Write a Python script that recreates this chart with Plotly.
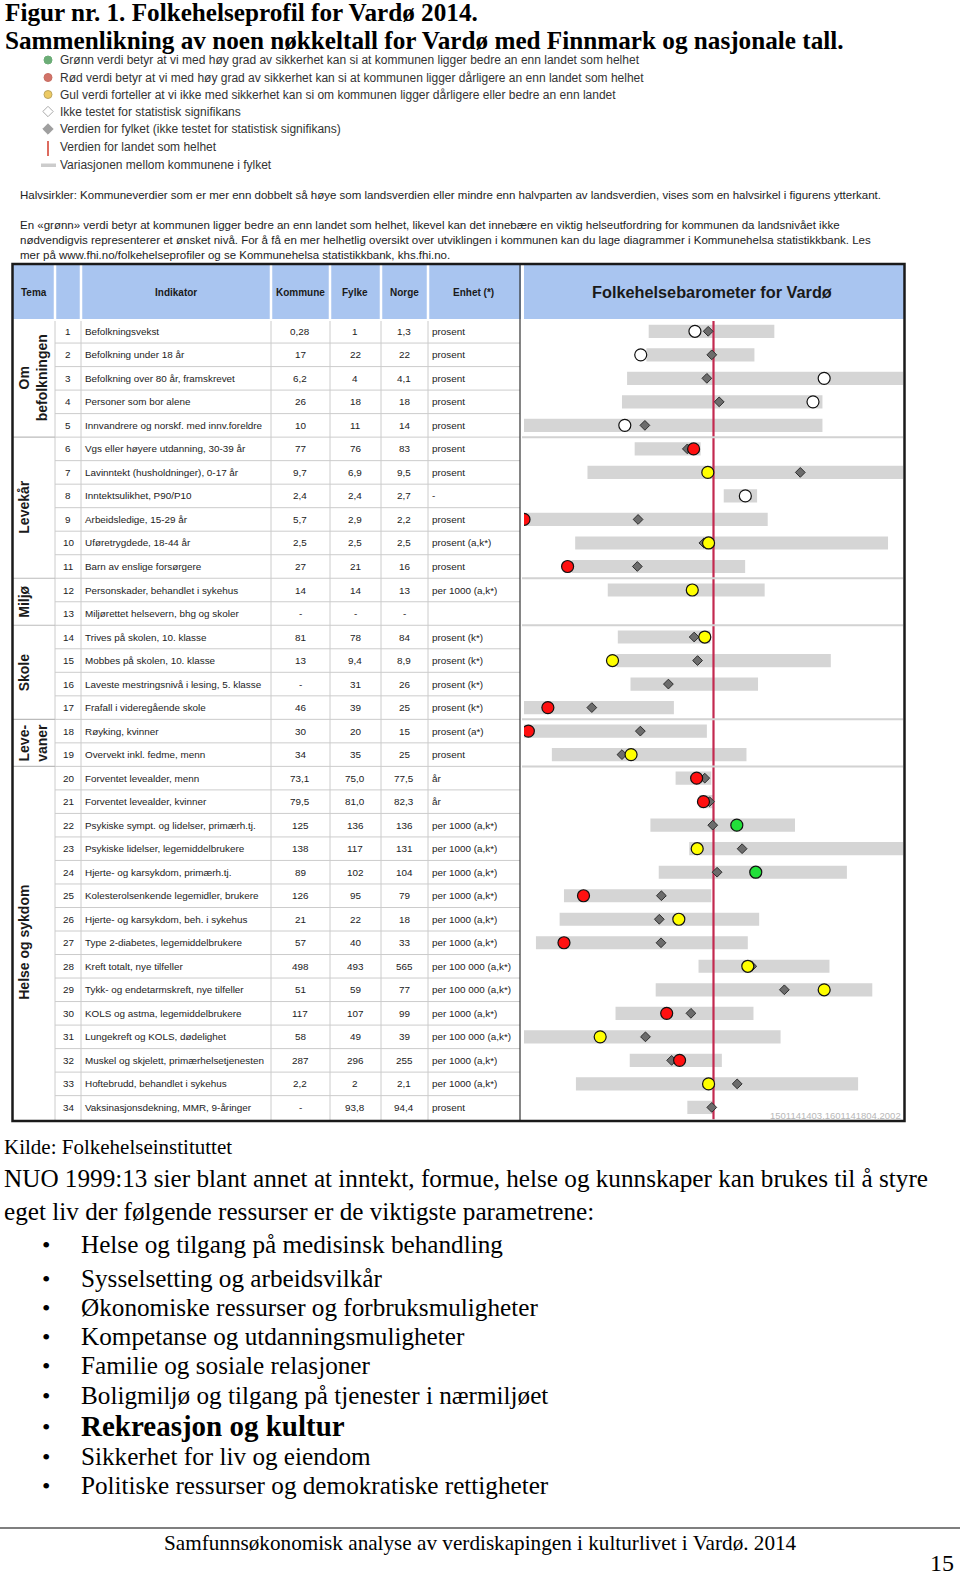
import plotly.graph_objects as go

W, H = 960, 1581


def px(x):
    return x / W


def py(y):
    return 1 - y / H


# ---------------- data ----------------
nr = list(range(1, 35))
indikator = [
    "Befolkningsvekst", "Befolkning under 18 år", "Befolkning over 80 år, framskrevet",
    "Personer som bor alene", "Innvandrere og norskf. med innv.foreldre",
    "Vgs eller høyere utdanning, 30-39 år", "Lavinntekt (husholdninger), 0-17 år",
    "Inntektsulikhet, P90/P10", "Arbeidsledige, 15-29 år", "Uføretrygdede, 18-44 år",
    "Barn av enslige forsørgere", "Personskader, behandlet i sykehus",
    "Miljørettet helsevern, bhg og skoler", "Trives på skolen, 10. klasse",
    "Mobbes på skolen, 10. klasse", "Laveste mestringsnivå i lesing, 5. klasse",
    "Frafall i videregående skole", "Røyking, kvinner", "Overvekt inkl. fedme, menn",
    "Forventet levealder, menn", "Forventet levealder, kvinner",
    "Psykiske sympt. og lidelser, primærh.tj.", "Psykiske lidelser, legemiddelbrukere",
    "Hjerte- og karsykdom, primærh.tj.", "Kolesterolsenkende legemidler, brukere",
    "Hjerte- og karsykdom, beh. i sykehus", "Type 2-diabetes, legemiddelbrukere",
    "Kreft totalt, nye tilfeller", "Tykk- og endetarmskreft, nye tilfeller",
    "KOLS og astma, legemiddelbrukere", "Lungekreft og KOLS, dødelighet",
    "Muskel og skjelett, primærhelsetjenesten", "Hoftebrudd, behandlet i sykehus",
    "Vaksinasjonsdekning, MMR, 9-åringer",
]
kommune = ["0,28", "17", "6,2", "26", "10", "77", "9,7", "2,4", "5,7", "2,5", "27", "14", "-",
           "81", "13", "-", "46", "30", "34", "73,1", "79,5", "125", "138", "89", "126", "21",
           "57", "498", "51", "117", "58", "287", "2,2", "-"]
fylke = ["1", "22", "4", "18", "11", "76", "6,9", "2,4", "2,9", "2,5", "21", "14", "-",
         "78", "9,4", "31", "39", "20", "35", "75,0", "81,0", "136", "117", "102", "95", "22",
         "40", "493", "59", "107", "49", "296", "2", "93,8"]
norge = ["1,3", "22", "4,1", "18", "14", "83", "9,5", "2,7", "2,2", "2,5", "16", "13", "-",
         "84", "8,9", "26", "25", "15", "25", "77,5", "82,3", "136", "131", "104", "79", "18",
         "33", "565", "77", "99", "39", "255", "2,1", "94,4"]
enhet = ["prosent", "prosent", "prosent", "prosent", "prosent", "prosent", "prosent", "-",
         "prosent", "prosent (a,k*)", "prosent", "per 1000 (a,k*)", "",
         "prosent (k*)", "prosent (k*)", "prosent (k*)", "prosent (k*)", "prosent (a*)",
         "prosent", "år", "år", "per 1000 (a,k*)", "per 1000 (a,k*)", "per 1000 (a,k*)",
         "per 1000 (a,k*)", "per 1000 (a,k*)", "per 1000 (a,k*)", "per 100 000 (a,k*)",
         "per 100 000 (a,k*)", "per 1000 (a,k*)", "per 100 000 (a,k*)", "per 1000 (a,k*)",
         "per 1000 (a,k*)", "prosent"]

# Barometer: standardised positions, national value = 0, figure edges = -1 / +1
var_lav = [-0.342, -0.354, -0.456, -0.483, -1.0, -0.416, -0.665, 0.054, -1.0, -0.730,
           -0.749, -0.558, None, -0.505, -0.512, -0.438, -1.0, -1.0, -0.853, -0.200,
           -0.075, -0.333, -0.128, -0.289, -0.789, -0.812, -0.937, -0.079, -0.305,
           -0.517, -1.0, -0.442, -0.726, -0.138]
var_hoy = [0.321, 0.216, 1.0, 0.575, 0.575, -0.068, 1.0, 0.230, 0.286, 0.921,
           0.167, 0.270, None, -0.017, 0.619, 0.235, -0.209, -0.035, 0.174, -0.012,
           0.002, 0.430, 1.0, 0.704, -0.012, 0.241, 0.181, 0.612, 0.838,
           0.211, 0.354, 0.044, 0.763, 0.002]
kommune_pos = [-0.098, -0.384, 0.584, 0.525, -0.468, -0.105, -0.030, 0.168, -1.0, -0.026,
               -0.770, -0.112, None, -0.046, -0.533, None, -0.874, -0.977, -0.435, -0.089,
               -0.053, 0.123, -0.086, 0.223, -0.686, -0.183, -0.789, 0.181, 0.584,
               -0.247, -0.598, -0.179, -0.026, None]
kommune_status = ["hvit", "hvit", "hvit", "hvit", "hvit", "rød", "gul", "hvit", "rød", "gul",
                  "rød", "gul", None, "gul", "gul", None, "rød", "rød", "gul", "rød",
                  "rød", "grønn", "gul", "grønn", "rød", "gul", "rød", "gul", "gul",
                  "rød", "gul", "rød", "gul", None]
fylke_pos = [-0.028, -0.009, -0.035, 0.030, -0.362, -0.138, 0.458, 0.168, -0.398, -0.051,
             -0.402, -0.112, None, -0.102, -0.084, -0.238, -0.642, -0.386, -0.483, -0.046,
             -0.021, -0.004, 0.151, 0.019, -0.275, -0.286, -0.277, 0.202, 0.374,
             -0.119, -0.359, -0.221, 0.125, -0.009]
norge_pos = 0.0

tema_navn = ["Om<br>befolkningen", "Levekår", "Miljø", "Skole", "Leve-<br>vaner", "Helse og sykdom"]
tema_fra = [1, 6, 12, 14, 18, 20]
tema_til = [5, 11, 13, 17, 19, 34]

kolonner = ["Tema", "", "Indikator", "Kommune", "Fylke", "Norge", "Enhet (*)"]

legend_tekster = [
    "Grønn verdi betyr at vi med høy grad av sikkerhet kan si at kommunen ligger bedre an enn landet som helhet",
    "Rød verdi betyr at vi med høy grad av sikkerhet kan si at kommunen ligger dårligere an enn landet som helhet",
    "Gul verdi forteller at vi ikke med sikkerhet kan si om kommunen ligger dårligere eller bedre an enn landet",
    "Ikke testet for statistisk signifikans",
    "Verdien for fylket (ikke testet for statistisk signifikans)",
    "Verdien for landet som helhet",
    "Variasjonen mellom kommunene i fylket",
]
punkter = [
    "Helse og tilgang på medisinsk behandling",
    "Sysselsetting og arbeidsvilkår",
    "Økonomiske ressurser og forbruksmuligheter",
    "Kompetanse og utdanningsmuligheter",
    "Familie og sosiale relasjoner",
    "Boligmiljø og tilgang på tjenester i nærmiljøet",
    "Rekreasjon og kultur",
    "Sikkerhet for liv og eiendom",
    "Politiske ressurser og demokratiske rettigheter",
]

# ---------------- styles ----------------
SANS = "Liberation Sans, Arial, sans-serif"
SERIF = "Liberation Serif, Times New Roman, serif"
status_farge = {"hvit": "#ffffff", "rød": "#ff1010", "gul": "#ffff00", "grønn": "#22e03a"}

fig = go.Figure()

# variation bars
rader_bar = [r for r in nr if var_lav[r - 1] is not None]
fig.add_trace(go.Bar(
    orientation="h",
    y=rader_bar,
    base=[var_lav[r - 1] for r in rader_bar],
    x=[var_hoy[r - 1] - var_lav[r - 1] for r in rader_bar],
    width=0.56,
    marker=dict(color="#d5d5d5", line=dict(width=0)),
    xaxis="x", yaxis="y", hoverinfo="skip", showlegend=False,
))
# national line
fig.add_trace(go.Scatter(
    x=[norge_pos, norge_pos], y=[0.4, 34.6], mode="lines",
    line=dict(color="#c3294f", width=2.2), xaxis="x", yaxis="y",
    hoverinfo="skip", showlegend=False,
))
# county diamonds
rader_f = [r for r in nr if fylke_pos[r - 1] is not None]
fig.add_trace(go.Scatter(
    x=[fylke_pos[r - 1] for r in rader_f], y=rader_f, mode="markers",
    marker=dict(symbol="diamond", size=7.5, color="#6c6c6c", line=dict(color="#2e2e2e", width=1)),
    xaxis="x", yaxis="y", hoverinfo="skip", showlegend=False,
))
# municipality circles
rader_k = [r for r in nr if kommune_pos[r - 1] is not None]
fig.add_trace(go.Scatter(
    x=[kommune_pos[r - 1] for r in rader_k], y=rader_k, mode="markers",
    marker=dict(symbol="circle", size=12,
                color=[status_farge[kommune_status[r - 1]] for r in rader_k],
                line=dict(color="#111111", width=1.2)),
    xaxis="x", yaxis="y", hoverinfo="skip", showlegend=False,
))

# legend glyphs (page axes, pixel units)
leg_y = [60, 77.5, 94.5, 111.5, 129, 147, 165]
fig.add_trace(go.Scatter(
    x=[48, 48, 48, 48, 48], y=leg_y[:5], mode="markers",
    marker=dict(symbol=["circle", "circle", "circle", "diamond", "diamond"],
                size=[8, 8, 8, 8, 8],
                color=["#2e8b3e", "#c0392b", "#e6b422", "#ffffff", "#777777"],
                line=dict(color=["#2e8b3e", "#b03020", "#a0801a", "#888888", "#777777"], width=1)),
    xaxis="x2", yaxis="y2", hoverinfo="skip", showlegend=False,
))

shapes = []
annotations = []


def ann(x, y, text, size, family=SANS, color="#222222", xanchor="left", yanchor="middle",
        xref="paper", yref="paper", angle=0, bold=False):
    if bold:
        text = "<b>" + text + "</b>"
    annotations.append(dict(x=x, y=y, xref=xref, yref=yref, text=text, showarrow=False,
                            xanchor=xanchor, yanchor=yanchor, textangle=angle,
                            font=dict(size=size, family=family, color=color)))


def line(x0, y0, x1, y1, color, width, yref="paper"):
    shapes.append(dict(type="line", xref="paper", yref=yref, x0=x0, x1=x1, y0=y0, y1=y1,
                       line=dict(color=color, width=width)))


def rect(x0, y0, x1, y1, fill, lc=None, lw=0):
    shapes.append(dict(type="rect", xref="paper", yref="paper", x0=px(x0), x1=px(x1),
                       y0=py(y0), y1=py(y1), fillcolor=fill,
                       line=dict(color=lc or fill, width=lw), layer="below"))


# legend extra glyphs
line(px(48), py(141), px(48), py(156), "#d23a2a", 1.5)
rect(41, 163.5, 56, 167, "#cccccc")

# title
ann(px(3), py(13), "Figur nr. 1. Folkehelseprofil for Vardø 2014.", 25.2, SERIF, "#000", bold=True)
ann(px(3), py(41), "Sammenlikning av noen nøkkeltall for Vardø med Finnmark og nasjonale tall.", 25.2,
    SERIF, "#000", bold=True)

for t, yy in zip(legend_tekster, leg_y):
    ann(px(58), py(yy), t, 12, SANS, "#333333")

ann(px(18), py(195), "Halvsirkler: Kommuneverdier som er mer enn dobbelt så høye som landsverdien eller "
    "mindre enn halvparten av landsverdien, vises som en halvsirkel i figurens ytterkant.",
    11.5, SANS, "#222222")
para = [
    "En «grønn» verdi betyr at kommunen ligger bedre an enn landet som helhet, likevel kan det innebære en "
    "viktig helseutfordring for kommunen da landsnivået ikke",
    "nødvendigvis representerer et ønsket nivå. For å få en mer helhetlig oversikt over utviklingen i "
    "kommunen kan du lage diagrammer i Kommunehelsa statistikkbank. Les",
    "mer på www.fhi.no/folkehelseprofiler og se Kommunehelsa statistikkbank, khs.fhi.no.",
]
for t, yy in zip(para, [225, 240, 255]):
    ann(px(18), py(yy), t, 11.5, SANS, "#222222")

# ---------------- table ----------------
col_x = [13, 55, 81, 271, 330, 381, 428, 520, 904]
TOP, HB, BOT = 264, 319, 1120

# header
rect(13, TOP, 904, HB, "#a9c5f0")
for cx in col_x[1:7]:
    line(px(cx), py(TOP + 1), px(cx), py(HB), "#ffffff", 2.5)
line(px(522.5), py(TOP + 1), px(522.5), py(HB), "#ffffff", 3)
line(px(13), py(HB + 1), px(904), py(HB + 1), "#ffffff", 2)

hdr_centers = [34, 68, 176, 300, 355, 404, 473]
for t, cx in zip(kolonner, hdr_centers):
    if t:
        ann(px(cx), py(292), t, 10, SANS, "#1a1a1a", xanchor="center", bold=True)
ann(px(712), py(292), "Folkehelsebarometer for Vardø", 16.3, SANS, "#1a1a1a", xanchor="center", bold=True)

# body grid
for i in range(1, 34):
    line(px(55), i + 0.5, px(520), i + 0.5, "#cccccc", 1, yref="y")
for cx in col_x[1:7]:
    line(px(cx), py(HB + 2), px(cx), py(BOT), "#cccccc", 1)
for f in tema_fra[1:]:
    line(px(13), f - 0.5, px(55), f - 0.5, "#bbbbbb", 1.2, yref="y")
    line(px(522), f - 0.5, px(903), f - 0.5, "#d2d2d2", 2, yref="y")
# separators table / chart and outer frame
line(px(520), py(TOP), px(520), py(BOT), "#333333", 1.2)
shapes.append(dict(type="rect", xref="paper", yref="paper", x0=px(12.5), x1=px(904.5),
                   y0=py(TOP), y1=py(BOT + 1), line=dict(color="#1a1a1a", width=2.5),
                   fillcolor="rgba(0,0,0,0)"))

for r in nr:
    i = r - 1
    ann(px(68), r, str(r), 9.9, SANS, "#222", xanchor="center", yref="y")
    ann(px(82.5), r, indikator[i], 9.9, SANS, "#222", yref="y")
    ann(px(300), r, kommune[i], 9.9, SANS, "#222", xanchor="center", yref="y")
    ann(px(355), r, fylke[i], 9.9, SANS, "#222", xanchor="center", yref="y")
    ann(px(404), r, norge[i], 9.9, SANS, "#222", xanchor="center", yref="y")
    if enhet[i]:
        ann(px(430), r, enhet[i], 9.9, SANS, "#222", yref="y")

for navn, a, b in zip(tema_navn, tema_fra, tema_til):
    ann(px(14), (a + b) / 2, navn, 14, SANS, "#1a1a1a", xanchor="left", yref="y", angle=-90, bold=True)

ann(px(903), py(1115), "1501141403.1601141804.2002", 9.5, SANS, "#b8b8b8", xanchor="right")

# ---------------- text below ----------------
ann(px(2), py(1147), "Kilde: Folkehelseinstituttet", 21, SERIF, "#000")
ann(px(2), py(1178), "NUO 1999:13 sier blant annet at inntekt, formue, helse og kunnskaper kan brukes til å styre",
    25.2, SERIF, "#000")
ann(px(2), py(1211), "eget liv der følgende ressurser er de viktigste parametrene:", 25.2, SERIF, "#000")
punkt_y = [1244, 1278, 1307, 1336, 1365, 1395, 1426, 1456, 1485]
for t, yy in zip(punkter, punkt_y):
    big = t == "Rekreasjon og kultur"
    ann(px(40), py(yy + 1), "•", 24, SERIF, "#000")
    ann(px(79), py(yy), t, 29 if big else 25.2, SERIF, "#000", bold=big)

line(0, py(1528), 1, py(1528), "#000000", 1.2)
ann(px(480), py(1543), "Samfunnsøkonomisk analyse av verdiskapingen i kulturlivet i Vardø. 2014", 21.2,
    SERIF, "#000", xanchor="center")
ann(px(956), py(1563), "15", 24, SERIF, "#000", xanchor="right")

ROW0, DY = 331.3, 23.518
y_top = ROW0 - DY / 2
y_bot = ROW0 + 33 * DY + DY / 2

fig.update_layout(
    width=W, height=H, margin=dict(l=0, r=0, t=0, b=0),
    paper_bgcolor="#ffffff", plot_bgcolor="rgba(0,0,0,0)",
    showlegend=False, barmode="overlay",
    xaxis=dict(domain=[px(524), px(903)], range=[-1, 1], visible=False, fixedrange=True),
    yaxis=dict(domain=[py(y_bot), py(y_top)], range=[34.5, 0.5], visible=False, fixedrange=True),
    xaxis2=dict(domain=[0, 1], range=[0, W], visible=False, anchor="y2", fixedrange=True),
    yaxis2=dict(domain=[0, 1], range=[H, 0], visible=False, anchor="x2", fixedrange=True),
    shapes=shapes, annotations=annotations,
)

fig.write_html("out.html", config={"displayModeBar": False},
               post_script="document.body.style.margin='0';document.body.style.overflow='hidden';")
